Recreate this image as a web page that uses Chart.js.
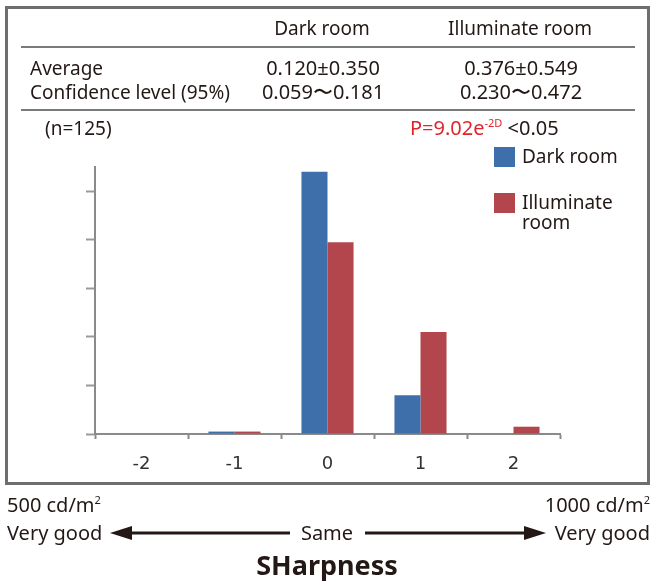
<!DOCTYPE html>
<html>
<head>
<meta charset="utf-8">
<script src="https://cdn.jsdelivr.net/npm/chart.js@4.4.0/dist/chart.umd.min.js"></script>
<style>
  body { margin: 0; background: #fff; }
  #page { position: relative; width: 652px; height: 582px; overflow: hidden;
          font-family: "Noto Sans", "Open Sans", sans-serif; color: #231815; }
  #myChart { position: absolute; left: 0; top: 0; }
  .t { position: absolute; font-size: 19px; line-height: 22px; white-space: nowrap; }
  .n { font-size: 20px; }
  .c { transform: translateX(-50%); }
  .r { transform: translateX(-100%); }
  .hline { position: absolute; left: 21px; width: 614px; height: 2px; background: #7a7a7a; }
  #frame { position: absolute; left: 5px; top: 6px; width: 645px; height: 479px;
           box-sizing: border-box; border: 3px solid #6e6e6e; }
  #legend { position: absolute; left: 494px; top: 147px; font-size: 19px; line-height: 20px; }
  .item { position: relative; height: 46px; }
  .box { position: absolute; left: 0; top: 0; width: 21px; height: 20px; }
  .lab { position: absolute; left: 28px; top: -1px; width: 100px; }
  .big { font-size: 20px; line-height: 22px; }
  sup { font-size: 11px; vertical-align: 0; position: relative; top: -8px; }
</style>
</head>
<body>
<div id="page">
  <canvas id="myChart" width="652" height="582"></canvas>
  <div id="frame"></div>

  <div class="t c" style="left:322px; top:17px;">Dark room</div>
  <div class="t c" style="left:520px; top:17px;">Illuminate room</div>
  <div class="hline" style="top:46px;"></div>
  <div class="t" style="left:30px; top:57px;">Average</div>
  <div class="t c n" style="left:323px; top:57px;">0.120±0.350</div>
  <div class="t c n" style="left:521px; top:57px;">0.376±0.549</div>
  <div class="t" style="left:30px; top:81px;">Confidence level (95%)</div>
  <div class="t c n" style="left:323px; top:81px;">0.059〜0.181</div>
  <div class="t c n" style="left:521px; top:81px;">0.230〜0.472</div>
  <div class="hline" style="top:109px;"></div>
  <div class="t" style="left:45px; top:117px;">(n=125)</div>
  <div class="t n" style="left:410px; top:117px;"><span style="color:#e0242c;">P=9.02e<sup>-2D</sup></span> &lt;0.05</div>

  <div id="legend"></div>

  <div class="t big" style="left:7px; top:494px;">500 cd/m<sup>2</sup></div>
  <div class="t big" style="left:7px; top:522px;">Very good</div>
  <div class="t big c" style="left:327px; top:522px;">Same</div>
  <div class="t big r" style="left:650px; top:494px;">1000 cd/m<sup>2</sup></div>
  <div class="t big r" style="left:650px; top:522px;">Very good</div>
  <svg style="position:absolute; left:0; top:520px;" width="652" height="26">
    <line x1="128" y1="13" x2="290" y2="13" stroke="#231815" stroke-width="3"/>
    <polygon points="110,13 132,6 132,20" fill="#231815"/>
    <line x1="365" y1="13" x2="528" y2="13" stroke="#231815" stroke-width="3"/>
    <polygon points="546,13 524,6 524,20" fill="#231815"/>
  </svg>
  <div class="t c" style="left:327px; top:550px; font-size:27px; line-height:30px; font-weight:bold;">SHarpness</div>
</div>

<script>
var categories = ['-2', '-1', '0', '1', '2'];
var seriesNames = ['Dark room', 'Illuminate room'];
var darkRoom = [0, 1, 108, 16, 0];
var illuminateRoom = [0, 1, 79, 42, 3];
var barColors = ['#3f6fab', '#b2464c'];
var yMax = 110;
var yStep = 20;

function buildLegend() {
    var html = '';
    for (var i = 0; i < seriesNames.length; i++) {
        html += '<div class="item"><div class="box" style="background:' + barColors[i] + '"></div>' +
            '<div class="lab">' + seriesNames[i] + '</div></div>';
    }
    document.getElementById('legend').innerHTML = html;
}

function createChart() {
    new Chart('myChart', {
        type: 'bar',
        data: {
            labels: categories,
            datasets: [{
                label: seriesNames[0],
                data: darkRoom,
                backgroundColor: barColors[0],
                borderWidth: 0
            }, {
                label: seriesNames[1],
                data: illuminateRoom,
                backgroundColor: barColors[1],
                borderWidth: 0
            }]
        },
        options: {
            responsive: false,
            animation: false,
            layout: { padding: { left: 75, right: 92, top: 167, bottom: 98 } },
            plugins: { legend: { display: false }, tooltip: { enabled: false } },
            datasets: { bar: { barPercentage: 1, categoryPercentage: 0.56 } },
            scales: {
                x: {
                    grid: { drawOnChartArea: false, tickLength: 5, tickColor: '#8a8a8a', tickWidth: 2 },
                    border: { color: '#8a8a8a', width: 2 },
                    ticks: { color: '#333', font: { family: 'DejaVu Sans', size: 18 }, padding: 15 },
                    afterFit: function (s) { s.height = 50; }
                },
                y: {
                    min: 0,
                    max: yMax,
                    grid: { drawOnChartArea: false, tickLength: 9, tickColor: '#9a9a9a', tickWidth: 2 },
                    border: { color: '#8a8a8a', width: 2 },
                    ticks: { display: false, stepSize: yStep, includeBounds: false },
                    afterFit: function (s) { s.width = 20; }
                }
            }
        }
    });
}

buildLegend();
createChart();
</script>
</body>
</html>
